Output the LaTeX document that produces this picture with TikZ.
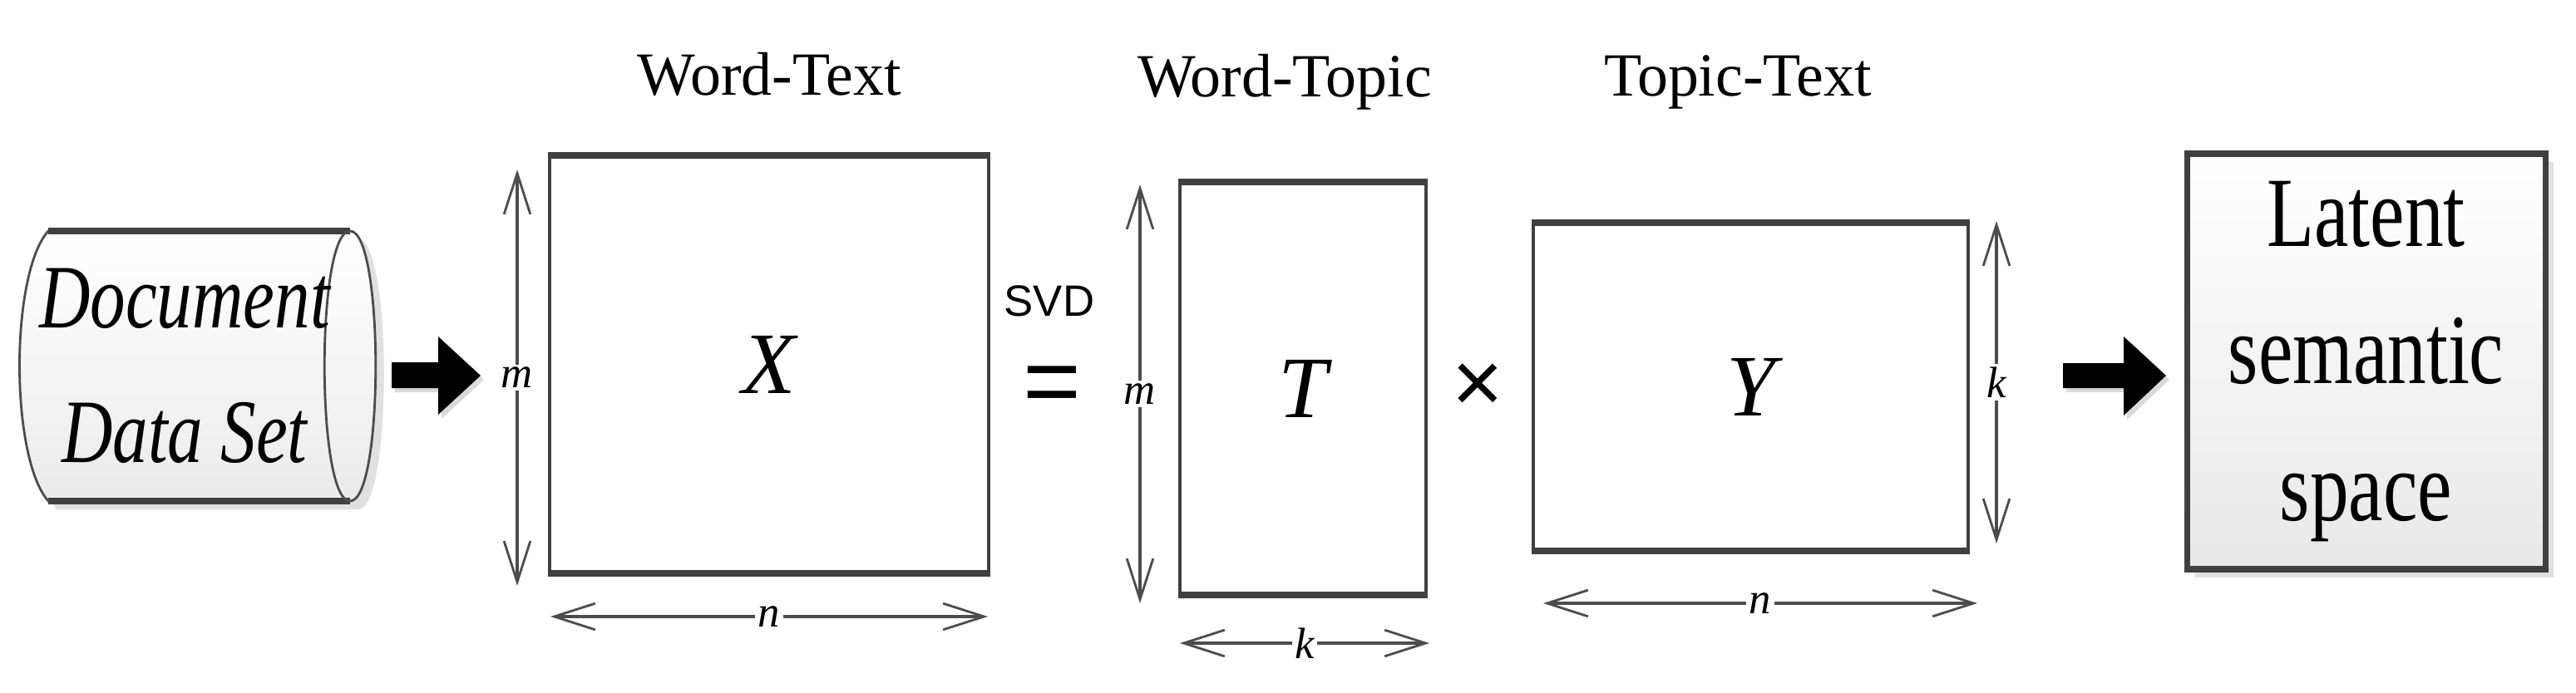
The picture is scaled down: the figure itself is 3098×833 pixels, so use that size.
\documentclass[tikz,border=0pt]{standalone}
\usepackage{fontspec}
\setmainfont{Liberation Serif}
\setsansfont{Liberation Sans}
\usetikzlibrary{arrows.meta}
\begin{document}
\begin{tikzpicture}[x=0.01cm,y=-0.01cm,
  mat/.style={draw=black!75,line width=1.2pt,inner sep=0},
  edge/.style={draw=black!75,line width=2.4pt},
  dim/.style={draw=black!70,line width=0.9pt,{Straight Barb[length=14pt,width=9pt,line width=0.8pt]}-{Straight Barb[length=14pt,width=9pt,line width=0.8pt]}},
  dimlbl/.style={fill=white,inner sep=1pt,font=\fontsize{15}{15}\selectfont\itshape},
  ttl/.style={font=\fontsize{21}{21}\selectfont},
  bigtxt/.style={font=\fontsize{30}{30}\selectfont\itshape}]
\useasboundingbox (0,0) rectangle (3098,833);
% cylinder
\fill[black!12] (68,288) -- (431,288) .. controls (472,288) and (472,613) .. (431,613) -- (68,613) .. controls (25,560) and (25,340) .. (68,288);
\shade[top color=white,bottom color=black!8,draw=black!70,line width=0.8pt] (58,278) -- (421,278) .. controls (462,278) and (462,603) .. (421,603) -- (58,603) .. controls (12,550) and (12,330) .. (58,278) -- cycle;
\draw[edge] (58,278) -- (421,278) (58,603) -- (421,603);
\draw[black!70,line width=0.8pt] (421,278) .. controls (380,278) and (380,603) .. (421,603);
\node (cyl) at (222,440) [align=center,font=\fontsize{31}{46}\selectfont\itshape,xscale=0.78,transform shape] {Document\\Data Set};
% arrow 1
\fill[black!15] (475,442) -- (531,442) -- (531,410) -- (582,457) -- (531,504) -- (531,472) -- (475,472) -- cycle;
\fill (471,436) -- (527,436) -- (527,405) -- (578,452) -- (527,499) -- (527,467) -- (471,467) -- cycle;
% X
\node[mat,minimum width=5.27cm,minimum height=4.99cm] (X) at (925,438.5) {};
\draw[edge] (X.north west) -- (X.north east) (X.south west) -- (X.south east);
\node[bigtxt] at (X) {X};
\draw[dim] (622,204) -- node[dimlbl]{m} (622,705);
\draw[dim] (662,742) -- node[dimlbl]{n} (1188,742);
\node[ttl] (t1) at (925,89) {Word-Text};
% SVD =
\node[font=\sffamily\fontsize{15}{15}\selectfont] (svd) at (1262,362) {SVD};
\node[font=\sffamily\fontsize{34}{34}\selectfont] (eq) at (1265,470) {=};
% T
\node[mat,minimum width=2.96cm,minimum height=4.93cm] (T) at (1567,467.5) {};
\draw[edge] (T.north west) -- (T.north east) (T.south west) -- (T.south east);
\node[bigtxt] at (T) {T};
\draw[dim] (1371,222) -- node[dimlbl]{m} (1371,726);
\draw[dim] (1419,774) -- node[dimlbl]{k} (1719,774);
\node[ttl] (t2) at (1545,99) {Word-Topic};
\node[font=\sffamily\fontsize{30}{30}\selectfont] (times) at (1777,467) {×};
% Y
\node[mat,minimum width=5.23cm,minimum height=3.91cm] (Y) at (2105.5,465.5) {};
\draw[edge] (Y.north west) -- (Y.north east) (Y.south west) -- (Y.south east);
\node[bigtxt] at (Y) {Y};
\draw[dim] (2401,266) -- node[dimlbl]{k} (2401,654);
\draw[dim] (1856,726) -- node[dimlbl]{n} (2378,726);
\node[ttl] (t3) at (2090,99) {Topic-Text};
% arrow 2
\fill[black!15] (2485,442) -- (2558,442) -- (2558,410) -- (2609,457) -- (2558,505) -- (2558,472) -- (2485,472) -- cycle;
\fill (2481,437) -- (2554,437) -- (2554,405) -- (2605,452) -- (2554,500) -- (2554,467) -- (2481,467) -- cycle;
% Latent
\fill[black!12] (2640,195) rectangle (3071,695);
\shade[top color=white,bottom color=black!9,draw=black!75,line width=2pt] (2630,185) rectangle (3061,685);
\node (L) at (2845.5,435) [align=center,font=\fontsize{34}{47}\selectfont,xscale=0.78,transform shape] {Latent\\semantic\\space};
\end{tikzpicture}
\end{document}
